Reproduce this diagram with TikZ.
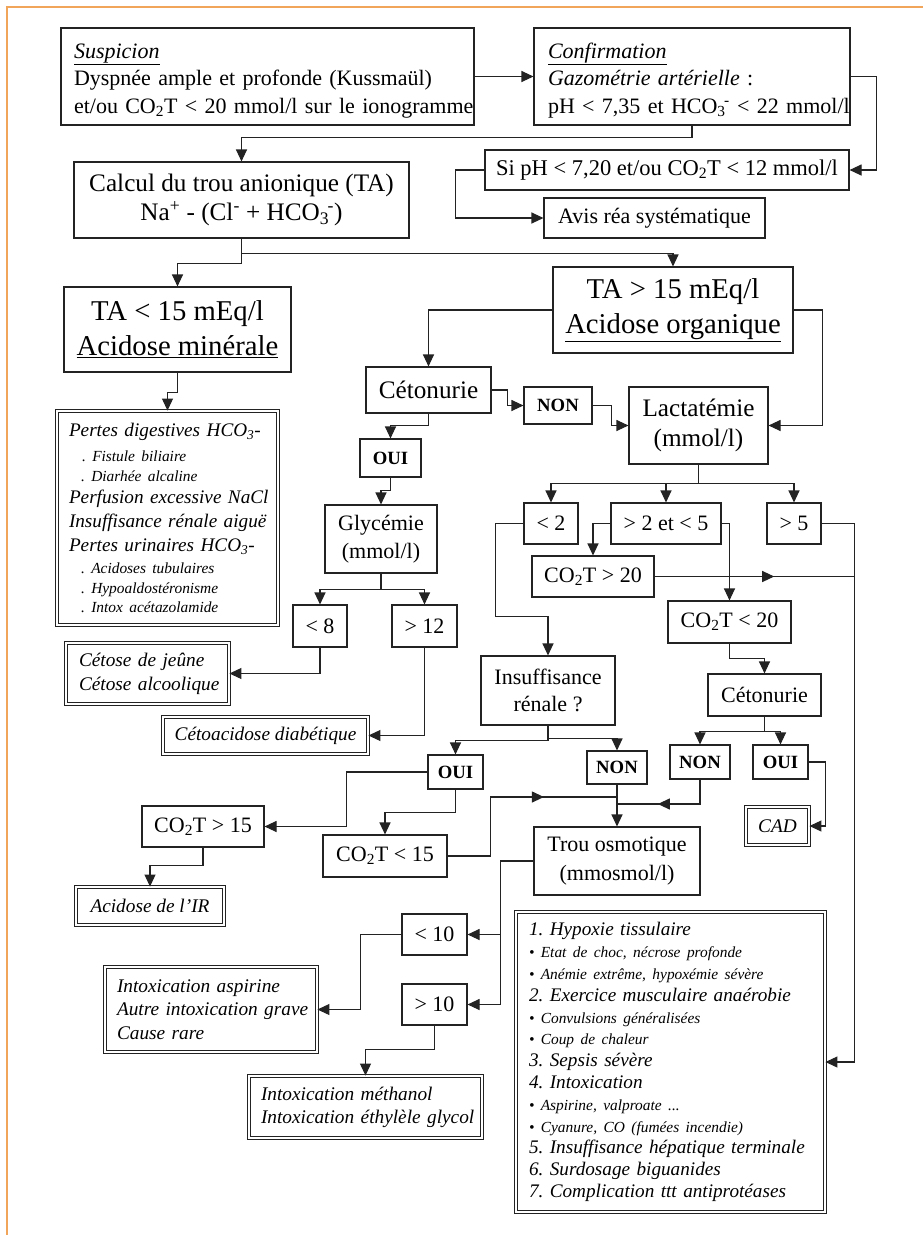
\documentclass[tikz,border=0pt]{standalone}
\usepackage{fontspec}
\setmainfont{Liberation Serif}
\usetikzlibrary{arrows.meta,decorations.markings}
\definecolor{frameorange}{RGB}{240,165,90}
\definecolor{ink}{RGB}{35,35,35}
\newcommand\myLine[1]{\mbox{#1}}
\newcommand\myBig{\fontsize{19.2}{21.8}\selectfont\itshape}
\newcommand\mySmall{\fontsize{15.4}{20}\selectfont\itshape}
\newcommand\myTight{\lineskiplimit=-100pt\relax\parindent=0pt\relax}
\newcommand\myHCO{HCO\textsubscript{3}\kern-1.5pt\textsuperscript{-}}
\frenchspacing
\begin{document}
\frenchspacing
\begin{tikzpicture}[x=1pt,y=-1pt,
  box/.style={draw=ink, line width=1.1pt, inner sep=0pt, align=center},
  dbox/.style={draw=ink, double=white, double distance=1.8pt, line width=0.9pt, inner sep=0pt, align=center},
  arr/.style={draw=ink, line width=1.1pt, -{Triangle[length=12pt,width=11pt]}},
  midarr/.style={draw=ink, line width=1.1pt, postaction={decorate},
    decoration={markings, mark=at position #1 with {\arrow{Triangle[length=12pt,width=11pt]}}}},
  fA/.style={font={\fontsize{22}{27}\selectfont\frenchspacing\myTight}},
  fB/.style={font={\fontsize{25.2}{30}\selectfont\myTight}},
  fC/.style={font={\fontsize{28.7}{35}\selectfont\myTight}},
  fI/.style={font={\fontsize{19.3}{#1}\selectfont\itshape\frenchspacing\myTight}},
  fN/.style={font={\fontsize{18.7}{22}\selectfont\bfseries}},
]
\useasboundingbox (0,0) rectangle (923,1235);
\fill[white] (0,0) rectangle (923,1235);
% orange frame
\draw[frameorange, line width=1.5pt] (7,1235) -- (7,7) -- (923,7);

% ---------- top ----------
\node[box, fA, font={\fontsize{22}{27.5}\selectfont\frenchspacing\myTight}, align=left, text width=387pt, minimum width=413, minimum height=97] (susp) at (267.5,76.5)
 {\myLine{\rule{0pt}{23pt}\underline{\textit{Suspicion}}}\\
  \myLine{Dyspnée ample et profonde (Kussmaül)}\\
  \myLine{et/ou CO\textsubscript{2}T < 20 mmol/l sur le ionogramme}};
\node[box, fA, font={\fontsize{22}{27.5}\selectfont\frenchspacing\myTight}, align=left, text width=288pt, minimum width=316, minimum height=97] (conf) at (692,76.5)
 {\myLine{\rule{0pt}{23pt}\underline{\textit{Confirmation}}}\\
  \myLine{\textit{Gazométrie artérielle} :}\\
  \myLine{pH < 7,35 et \myHCO{} < 22 mmol/l}};
\node[box, font={\fontsize{25.2}{29}\selectfont}, minimum width=335, minimum height=76] (calc) at (241.5,200)
 {Calcul du trou anionique (TA)\\ Na\textsuperscript{+} - (Cl\textsuperscript{-} + \myHCO)};
\node[box, fA, font={\fontsize{22.5}{27}\selectfont}, minimum width=364, minimum height=40] (sipH) at (667,170)
 {Si pH < 7,20 et/ou CO\textsubscript{2}T < 12 mmol/l};
\node[box, fA, minimum width=221, minimum height=40] (avis) at (654.5,218) {Avis réa systématique};

% ---------- TA ----------
\node[box, fC, minimum width=227, minimum height=85] (ta1) at (177.5,329.5)
 {TA < 15 mEq/l\\ \underline{Acidose minérale}};
\node[box, fC, minimum width=240, minimum height=86] (ta2) at (673,310)
 {TA > 15 mEq/l\\ \underline{Acidose organique}};

\node[dbox, fI=20, align=left, text width=197pt, minimum width=221, minimum height=214] (pertes) at (167.5,518)
 {\myLine{\myBig Pertes digestives HCO\textsubscript{3}-}\\[5pt]
  \myLine{\mySmall\hspace*{13pt}. Fistule biliaire}\\
  \myLine{\mySmall\hspace*{12pt}. Diarhée alcaline}\\[2pt]
  \myLine{\myBig Perfusion excessive NaCl}\\[4pt]
  \myLine{\myBig Insuffisance rénale aiguë}\\[4pt]
  \myLine{\myBig Pertes urinaires HCO\textsubscript{3}-}\\[2pt]
  \myLine{\mySmall\hspace*{12pt}. Acidoses tubulaires}\\
  \myLine{\mySmall\hspace*{12pt}. Hypoaldostéronisme}\\[-1pt]
  \myLine{\mySmall\hspace*{12pt}. Intox acétazolamide}};

% ---------- ketone branch ----------
\node[box, fB, minimum width=125, minimum height=46] (cet1) at (428.5,390) {Cétonurie};
\node[box, fN, minimum width=68, minimum height=37] (non1) at (558,405.5) {NON};
\node[box, fB, minimum width=139, minimum height=77] (lact) at (698.5,425.5) {Lactatémie\\(mmol/l)};
\node[box, fN, minimum width=61, minimum height=38] (oui1) at (390.5,458) {OUI};
\node[box, font={\fontsize{22}{28}\selectfont}, minimum width=112, minimum height=68] (gly) at (381,539) {Glycémie\\(mmol/l)};
\node[box, fA, minimum width=54, minimum height=42] (lt8) at (320,626) {< 8};
\node[box, fA, minimum width=65, minimum height=42] (gt12) at (424.5,626) {> 12};
\node[dbox, fI=24, align=left, text width=137pt, minimum width=163, minimum height=61] (cetose) at (147.5,673.5)
 {\myLine{Cétose de jeûne}\\ \myLine{Cétose alcoolique}};
\node[dbox, fI=24, minimum width=205, minimum height=37] (cetoac) at (265.5,735.5) {Cétoacidose diabétique};

% ---------- lactate branch ----------
\node[box, fA, minimum width=54, minimum height=41] (lt2) at (551,523.5) {< 2};
\node[box, fA, minimum width=110, minimum height=41] (mid) at (666,523.5) {> 2 et < 5};
\node[box, fA, minimum width=54, minimum height=41] (gt5) at (794,523.5) {> 5};
\node[box, fA, minimum width=122, minimum height=41] (co2gt20) at (593,576.5) {CO\textsubscript{2}T > 20};
\node[box, fA, minimum width=123, minimum height=42] (co2lt20) at (729.5,622) {CO\textsubscript{2}T < 20};
\node[box, fA, minimum width=113, minimum height=42] (cet2) at (764.5,695) {Cétonurie};
\node[box, fN, minimum width=60, minimum height=34] (non2) at (700,762) {NON};
\node[box, fN, minimum width=55, minimum height=34] (oui2) at (780.5,762) {OUI};
\node[dbox, fI=24, minimum width=63, minimum height=38] (cad) at (777.5,826) {CAD};

\node[box, fA, minimum width=134, minimum height=69] (insuf) at (548,690.5) {Insuffisance\\rénale ?};
\node[box, fN, minimum width=55, minimum height=34] (oui3) at (455.5,772) {OUI};
\node[box, fN, minimum width=60, minimum height=33] (non3) at (617,767.5) {NON};
\node[box, fA, minimum width=122, minimum height=41] (co2gt15) at (203,826.5) {CO\textsubscript{2}T > 15};
\node[box, fA, minimum width=124, minimum height=42] (co2lt15) at (385,856) {CO\textsubscript{2}T < 15};
\node[box, font={\fontsize{22}{29}\selectfont}, minimum width=166, minimum height=68] (trou) at (617,861) {Trou osmotique\\(mmosmol/l)};
\node[dbox, fI=24, minimum width=148, minimum height=38] (acidir) at (150,906) {Acidose de l’IR};
\node[box, fA, minimum width=65, minimum height=41] (lt10) at (434.5,934.5) {< 10};
\node[box, fA, minimum width=65, minimum height=41] (gt10) at (434.5,1004.5) {> 10};
\node[dbox, fI=23.5, align=left, text width=188pt, minimum width=212, minimum height=85] (intox) at (211,1009.5)
 {\myLine{Intoxication aspirine}\\ \myLine{Autre intoxication grave}\\ \myLine{Cause rare}};
\node[dbox, fI=23, align=left, text width=209pt, minimum width=233, minimum height=62] (meth) at (365.5,1107)
 {\myLine{Intoxication méthanol}\\ \myLine{Intoxication éthylèle glycol}};
\node[dbox, fI=21.8, align=left, text width=283pt, minimum width=309, minimum height=300] (hyp) at (670.5,1062)
 {\myLine{\myBig 1. Hypoxie tissulaire}\\
  \myLine{\mySmall • Etat de choc, nécrose profonde}\\
  \myLine{\mySmall • Anémie extrême, hypoxémie sévère}\\
  \myLine{\myBig 2. Exercice musculaire anaérobie}\\
  \myLine{\mySmall • Convulsions généralisées}\\
  \myLine{\mySmall • Coup de chaleur}\\
  \myLine{\myBig 3. Sepsis sévère}\\
  \myLine{\myBig 4. Intoxication}\\
  \myLine{\mySmall • Aspirine, valproate ...}\\
  \myLine{\mySmall • Cyanure, CO (fumées incendie)}\\
  \myLine{\myBig 5. Insuffisance hépatique terminale}\\
  \myLine{\myBig 6. Surdosage biguanides}\\
  \myLine{\myBig 7. Complication ttt antiprotéases}};

% junction points
\coordinate (jv) at (854,576.5);
\coordinate (jn) at (617,804);
\coordinate (jo) at (617,797);

% ---------- connectors ----------
\draw[arr] (susp.east) -- (conf.west);
\draw[arr] (conf.south) -- ++(0,12) -| (calc.north);
\draw[arr] (conf.east) -- ++(26,0) |- (sipH.east);
\draw[arr] (sipH.west) -- ++(-29,0) |- (avis.west);
\draw[arr] (calc.south) -- ++(0,15) -| (ta2.north);
\draw[arr] (calc.south) -- ++(0,25) -| (ta1.north);
\draw[arr] (ta1.south) -- ++(0,20) -| (pertes.north);
\draw[arr] (ta2.west) -| (cet1.north);
\draw[arr] (ta2.east) -- ++(29,0) |- (lact.east);
\draw[arr] (cet1.east) -- ++(16,0) |- (non1.west);
\draw[arr] (non1.east) -- ++(19,0) |- (lact.west);
\draw[arr] (cet1.south) -- ++(0,12) -| (oui1.north);
\draw[arr] (oui1.south) -- ++(0,13) -| (gly.north);
\draw[arr] (gly.south) -- ++(0,16) -| (lt8.north);
\draw[arr] (gly.south) -- ++(0,16) -| (gt12.north);
\draw[arr] (lt8.south) |- (cetose.east);
\draw[arr] (gt12.south) |- (cetoac.east);
\draw[arr] (lact.south) -- ++(0,19) -| (lt2.north);
\draw[arr] (lact.south) -- ++(0,19) -| (mid.north);
\draw[arr] (lact.south) -- ++(0,19) -| (gt5.north);
\draw[arr] (lt2.west) -- ++(-28,0) -- ++(0,93) -| (insuf.north);
\draw[arr] (mid.west) -| (co2gt20.north);
\draw[arr] (mid.east) -| (co2lt20.north);
\draw[arr] (gt5.east) -- ++(33,0) |- (hyp.east);
\draw[midarr=0.6] (co2gt20.east) -- (jv);
\draw[arr] (co2lt20.south) -- ++(0,15) -| (cet2.north);
\draw[arr] (cet2.south) -- ++(0,15) -| (non2.north);
\draw[arr] (cet2.south) -- ++(0,15) -| (oui2.north);
\draw[arr] (oui2.east) -- ++(17,0) |- (cad.east);
\draw[arr] (insuf.south) -- ++(0,15) -| (oui3.north);
\draw[arr] (insuf.south) -- ++(0,13) -| (non3.north);
\draw[arr] (non3.south) -- (trou.north);
\draw[midarr=0.62] (non2.south) |- (jn);
\draw[midarr=0.68] (co2lt15.east) -- ++(43,0) |- (jo);
\draw[arr] (oui3.west) -- ++(-81,0) |- (co2gt15.east);
\draw[arr] (oui3.south) -- ++(0,23) -| (co2lt15.north);
\draw[arr] (co2gt15.south) -- ++(0,18) -| (acidir.north);
\draw[arr] (trou.west) -- ++(-33,0) |- (lt10.east);
\draw[arr] (trou.west) -- ++(-33,0) |- (gt10.east);
\draw[arr] (lt10.west) -- ++(-41,0) |- (intox.east);
\draw[arr] (gt10.south) -- ++(0,24) -| (meth.north);
\end{tikzpicture}
\end{document}
